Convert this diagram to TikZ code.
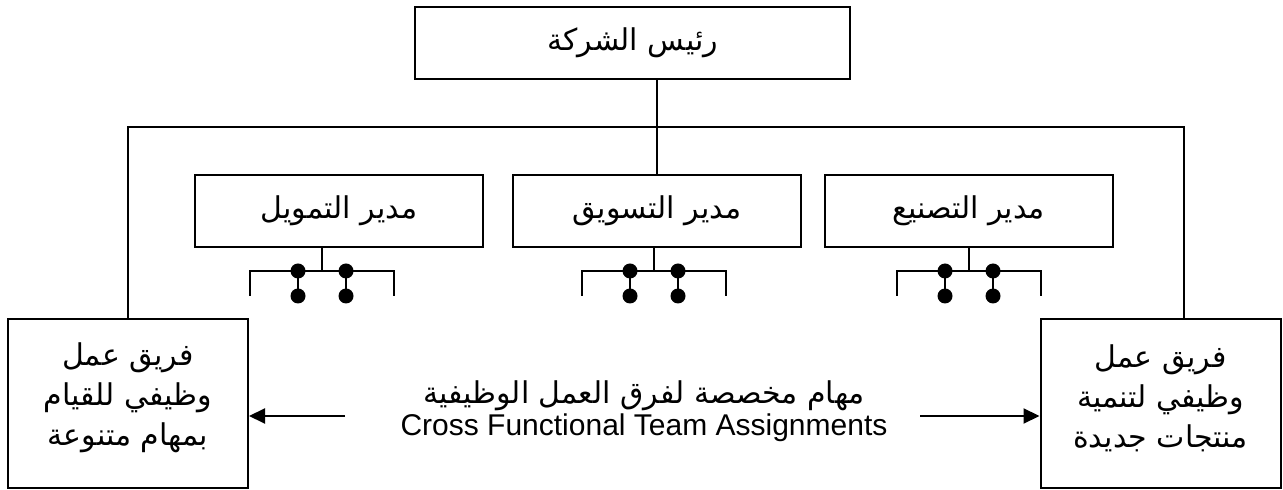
\documentclass[tikz,border=0pt]{standalone}
\usepackage{fontspec}
\setmainfont{Liberation Sans}
\newfontfamily\arabicfont[Script=Arabic]{DejaVu Sans}
\TeXXeTstate=1
\usetikzlibrary{arrows.meta}

\begin{document}
\begin{tikzpicture}[x=0.5pt,y=-0.5pt,line width=1pt,
	box/.style={draw,minimum width=#1,minimum height=36pt,inner sep=0pt,
		font=\arabicfont\fontsize{15}{18.5}\selectfont},
	team/.style={draw,minimum width=120pt,minimum height=84.5pt,inner sep=0pt},
	teamtxt/.style={inner sep=0pt,align=center,font=\arabicfont\fontsize{15}{20}\selectfont},
	dot/.style={circle,fill,inner sep=0pt,minimum size=7.5pt},
	arr/.style={-{Triangle[length=8pt,width=7.5pt]}}]
	\useasboundingbox (0,0) rectangle (1283,490);
	% boxes
	\node[box=217.5pt] (boss) at (632.5,43) {\beginR رئيس الشركة\endR};
	\node[box=144pt] (fin) at (339,211) {\beginR مدير التمويل\endR};
	\node[box=144pt] (mkt) at (657,211) {\beginR مدير التسويق\endR};
	\node[box=144pt] (mfg) at (968.5,211) {\beginR مدير التصنيع\endR};
	\node[team] (teamL) at (128,403.5) {};
	\node[teamtxt] (teamLt) at (128,398) {\beginR فريق عمل\endR\\ \beginR وظيفي للقيام\endR\\ \beginR بمهام متنوعة\endR};
	\node[team] (teamR) at (1160.5,403.5) {};
	\node[teamtxt] (teamRt) at (1160.5,398) {\beginR فريق عمل\endR\\ \beginR وظيفي لتنمية\endR\\ \beginR منتجات جديدة\endR};
	% links
	\coordinate (bus) at (1184,127);
	\draw (mkt.north) -- (mkt.north |- boss.south);
	\draw (teamL.north) |- (bus) -- (bus |- teamR.north);
	\foreach \m/\c in {fin/322,mkt/654,mfg/969}{
		\coordinate (\m b) at (\c,271);
		\draw (\m.south -| \m b) -- (\m b);
		\draw (\c-72,296) -- (\c-72,271) -- (\c+72,271) -- (\c+72,296);
		\foreach \s/\d in {l/-24,r/24}
			\draw (\c+\d,271) node[dot] (\m\s1) {} -- (\c+\d,296) node[dot] (\m\s2) {};
	}
	% assignments
	\node[anchor=base,font=\arabicfont\fontsize{15}{18}\selectfont] (noteA) at (644,404) {\beginR مهام مخصصة لفرق العمل الوظيفية\endR};
	\node[anchor=base,font=\fontsize{15}{18}\selectfont] (noteB) at (644,436) {Cross Functional Team Assignments};
	\coordinate (aL) at (345,416);
	\coordinate (aR) at (920,416);
	\draw[arr] (aL) -- (aL -| teamL.east);
	\draw[arr] (aR) -- (aR -| teamR.west);
\end{tikzpicture}
\end{document}
